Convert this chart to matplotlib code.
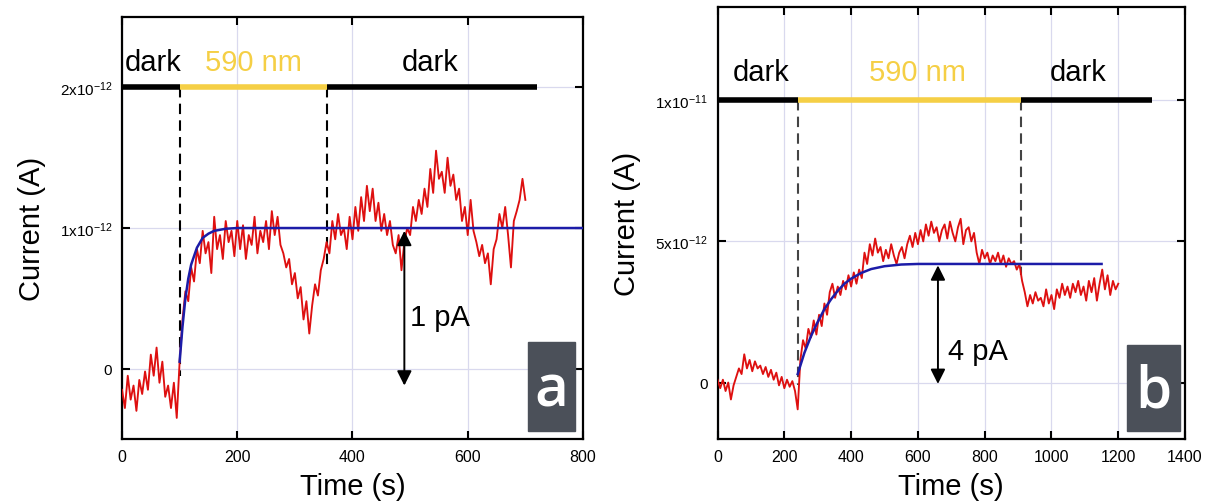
import numpy as np
import matplotlib
matplotlib.use("Agg")
import matplotlib.pyplot as plt
from matplotlib.patches import Rectangle

plt.rcParams['font.family'] = ['Liberation Sans', 'DejaVu Sans']
plt.rcParams['mathtext.fontset'] = 'custom'
plt.rcParams['mathtext.rm'] = 'Liberation Sans'

# ---- panel a: photocurrent (pA), sampled every 5 s ----
step_a = 5
cur_a = [-0.15, -0.28, -0.05, -0.22, -0.12, -0.30, -0.08, -0.18, -0.02, -0.15,
         0.10, -0.05, 0.15, -0.10, 0.05, -0.20, -0.12, -0.28, -0.10, -0.35,
         0.05, 0.35, 0.55, 0.48, 0.72, 0.62, 0.85, 0.75, 0.98, 0.82,
         0.90, 0.68, 1.08, 0.85, 0.95, 0.78, 1.05, 0.90, 0.98, 0.80,
         1.05, 0.85, 1.02, 0.78, 0.95, 0.88, 1.08, 0.82, 0.98, 0.90,
         1.05, 0.85, 1.12, 0.95, 1.08, 0.88, 0.82,
         0.72, 0.78, 0.60, 0.68, 0.50, 0.58, 0.35, 0.48, 0.25, 0.45,
         0.60, 0.52, 0.70, 0.78, 0.90,
         0.82, 1.05, 0.92, 1.10, 0.95, 1.00, 0.85, 1.08, 0.92, 1.15,
         0.98, 1.22, 1.05, 1.30, 1.12, 1.28, 1.05, 1.18, 0.98, 1.10,
         0.95, 1.05, 0.88, 0.82, 0.95, 0.70, 0.90,
         1.00, 0.95, 1.15, 1.05, 1.20, 1.10, 1.28, 1.15, 1.42, 1.25,
         1.55, 1.35, 1.40, 1.25, 1.50, 1.30, 1.38, 1.20, 1.28, 1.05,
         1.15, 0.95, 1.20, 0.98, 0.90,
         0.80, 0.88, 0.75, 0.82, 0.60, 0.85, 0.92, 1.10, 1.00, 1.15,
         0.95, 0.72, 1.05, 1.12, 1.20, 1.35, 1.20]
fit_a_t = [100, 105, 110, 115, 120, 130, 140, 150, 160, 180, 200, 800]
fit_a = [0.05, 0.30, 0.50, 0.64, 0.74, 0.86, 0.93, 0.96, 0.98, 0.995, 1.0, 1.0]

# ---- panel b: photocurrent (pA), sampled every 8 s ----
step_b = 8
cur_b = [0.1, -0.2, 0.1, -0.3, 0.0, -0.6, -0.1, 0.2, 0.5, 0.3,
         1.0, 0.5, 0.8, 0.4, 0.75, 0.5, 0.6, 0.3, 0.55, 0.2,
         0.45, 0.1, 0.35, -0.1, 0.2, -0.2, 0.1, -0.15, 0.05, -0.3, -0.95,
         0.8, 1.5, 1.2, 1.9, 1.6, 2.2, 1.7, 2.4, 2.0, 2.8,
         2.4, 3.2, 3.5, 3.0, 3.4, 3.1, 3.6, 3.3, 3.8, 3.4,
         3.9, 3.5, 4.0, 3.7,
         4.6, 4.2, 4.9, 4.5, 5.1, 4.6, 4.8, 4.3, 4.7, 4.4,
         4.9, 4.5, 4.2, 4.6, 4.8, 4.4, 4.9,
         5.2, 4.8, 5.3, 4.9, 5.4, 5.0, 5.6, 5.2, 5.7, 5.3,
         5.5, 5.0, 5.4, 5.6, 5.1, 5.7, 5.3, 5.0, 5.5, 5.8,
         4.9, 5.4, 5.5, 5.0,
         5.3, 4.6, 4.2, 4.7, 4.4, 4.6, 4.2, 4.5, 4.3, 4.6,
         4.2, 4.5, 4.1, 4.4, 4.2, 4.3, 4.0, 4.2, 3.6,
         3.2, 2.7, 3.1, 2.8, 3.2, 2.9, 3.0, 2.7, 3.3, 2.8,
         3.1, 2.6, 3.3, 3.0, 3.5, 3.1, 3.4, 3.0, 3.5, 3.2,
         3.6, 3.1, 3.4, 2.9, 3.6, 3.2, 3.7, 2.9, 3.5, 4.0,
         3.3, 3.8, 3.1, 3.6, 3.3, 3.5]
fit_b_t = [240, 260, 280, 300, 320, 340, 360, 380, 400, 430, 460, 500, 550, 600, 1150]
fit_b = [0.3, 1.05, 1.65, 2.15, 2.6, 2.95, 3.25, 3.5, 3.68, 3.88, 4.02, 4.12, 4.18, 4.2, 4.2]

# illumination periods (s)
light_a = [0, 100, 355, 720]
light_b = [0, 240, 910, 1300]

RED = '#de1010'
BLUE = '#1c1ca8'
YELLOW = '#f5cf45'
GRID = '#d9d9ee'
BOX = '#4b5059'


def style_axes(ax):
    ax.grid(True, color=GRID, lw=0.9)
    ax.set_axisbelow(True)
    ax.tick_params(direction='in', length=6, width=1.5, top=True, right=True,
                   labelsize=11.5, pad=7)
    ax.tick_params(axis='y', labelsize=11)
    for s in ax.spines.values():
        s.set_linewidth(1.6)
    ax.set_xlabel('Time (s)', fontsize=21, labelpad=6)
    ax.set_ylabel('Current (A)', fontsize=21, labelpad=10)


def draw_panel(ax, t, cur, fit_t, fit, light, level, dash_ends, dcol):
    ax.plot(t, np.array(cur) * 1e-12, color=RED, lw=1.35, zorder=3)
    ax.plot(fit_t, np.array(fit) * 1e-12, color=BLUE, lw=1.8, zorder=4)
    ax.plot(light[0:2], [level, level], color='black', lw=4, solid_capstyle='butt', zorder=5)
    ax.plot(light[1:3], [level, level], color=YELLOW, lw=4, solid_capstyle='butt', zorder=5)
    ax.plot(light[2:4], [level, level], color='black', lw=4, solid_capstyle='butt', zorder=5)
    for x, yend in zip(light[1:3], dash_ends):
        ax.plot([x, x], [level, yend], color=dcol, lw=1.5, ls=(0, (5, 3)), zorder=2)


fig = plt.figure(figsize=(12.08, 5.02), dpi=100)
ax1 = fig.add_axes([0.101, 0.1235, 0.3816, 0.8405])
ax2 = fig.add_axes([0.594, 0.1235, 0.387, 0.8605])

# panel a
t_a = np.arange(len(cur_a)) * step_a
draw_panel(ax1, t_a, cur_a, fit_a_t, fit_a, light_a, 2e-12, [-0.05e-12, 0.72e-12], 'black')
ax1.set_xlim(0, 800)
ax1.set_ylim(-0.5e-12, 2.5e-12)
ax1.set_xticks([0, 200, 400, 600, 800])
ax1.set_yticks([0, 1e-12, 2e-12])
ax1.set_yticklabels(['0', r'$\mathregular{1x10^{-12}}$', r'$\mathregular{2x10^{-12}}$'])
style_axes(ax1)
ax1.text(5, 2.18e-12, 'dark', fontsize=21, va='center')
ax1.text(144, 2.18e-12, '590 nm', fontsize=21, va='center', color=YELLOW)
ax1.text(485, 2.18e-12, 'dark', fontsize=21, va='center')
ax1.annotate('', xy=(490, 0.98e-12), xytext=(490, -0.12e-12),
             arrowprops=dict(arrowstyle='<|-|>', color='black', lw=1.4, mutation_scale=22,
                             shrinkA=0, shrinkB=0), zorder=6)
ax1.text(500, 0.37e-12, '1 pA', fontsize=21, va='center')
ax1.add_patch(Rectangle((0.881, 0.019), 0.102, 0.211, transform=ax1.transAxes,
                        color=BOX, zorder=7))
ax1.text(0.932, 0.115, 'a', transform=ax1.transAxes, fontsize=42, color='white',
         ha='center', va='center', family='Open Sans', weight='semibold', zorder=8)

# panel b
t_b = np.arange(len(cur_b)) * step_b
draw_panel(ax2, t_b, cur_b, fit_b_t, fit_b, light_b, 1e-11, [-0.1e-12, 3.8e-12], '#444444')
ax2.set_xlim(0, 1400)
ax2.set_ylim(-2e-12, 1.33e-11)
ax2.set_xticks([0, 200, 400, 600, 800, 1000, 1200, 1400])
ax2.set_yticks([0, 5e-12, 1e-11])
ax2.set_yticklabels(['0', r'$\mathregular{5x10^{-12}}$', r'$\mathregular{1x10^{-11}}$'])
style_axes(ax2)
ax2.text(45, 1.1e-11, 'dark', fontsize=21, va='center')
ax2.text(600, 1.1e-11, '590 nm', fontsize=21, va='center', ha='center', color=YELLOW)
ax2.text(995, 1.1e-11, 'dark', fontsize=21, va='center')
ax2.annotate('', xy=(660, 4.15e-12), xytext=(660, -0.05e-12),
             arrowprops=dict(arrowstyle='<|-|>', color='black', lw=1.4, mutation_scale=22,
                             shrinkA=0, shrinkB=0), zorder=6)
ax2.text(690, 1.13e-12, '4 pA', fontsize=21, va='center')
ax2.add_patch(Rectangle((0.876, 0.0185), 0.113, 0.2, transform=ax2.transAxes,
                        color=BOX, zorder=7))
ax2.text(0.932, 0.11, 'b', transform=ax2.transAxes, fontsize=42, color='white',
         ha='center', va='center', family='Open Sans', weight='semibold', zorder=8)

fig.savefig('out.png', dpi=100)
